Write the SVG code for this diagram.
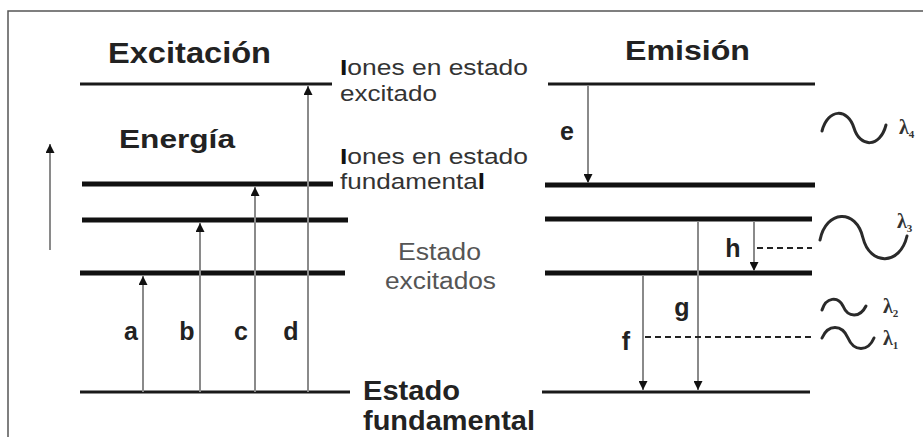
<svg xmlns="http://www.w3.org/2000/svg" width="923" height="437" viewBox="0 0 923 437">
<defs>
<marker id="ah" viewBox="0 0 10 10" refX="10" refY="5" markerWidth="9" markerHeight="9" markerUnits="userSpaceOnUse" orient="auto">
<path d="M0,0 L10,5 L0,10 z" fill="#111"/>
</marker>
<style>
.thin{stroke:#1a1a1a;stroke-width:3}
.thick{stroke:#111;stroke-width:5}
.arr{stroke:#8a8a8a;stroke-width:2;fill:none;marker-end:url(#ah)}
.dash{stroke:#222;stroke-width:2;stroke-dasharray:6 4}
.wave{stroke:#2a2a2a;stroke-width:3;fill:none;stroke-linecap:round}
.hd{font-family:"Liberation Sans",Arial,sans-serif;font-weight:bold;fill:#222}
.lb{font-family:"Liberation Sans",Arial,sans-serif;font-weight:bold;fill:#222;font-size:25px;text-anchor:middle}
.tx{font-family:"Liberation Sans",Arial,sans-serif;fill:#333;font-size:22px}
.gr{font-family:"Liberation Sans",Arial,sans-serif;fill:#555;font-size:23px}
.lam{font-family:"Liberation Serif","Times New Roman",serif;font-weight:bold;fill:#333;font-size:20px}
</style>
</defs>
<rect width="923" height="437" fill="#fff"/>
<path d="M8,437 V11 H923" fill="none" stroke="#555" stroke-width="1.5"/>

<g id="headings">
<text class="hd" x="108" y="63" font-size="29" textLength="163" lengthAdjust="spacingAndGlyphs">Excitación</text>
<text class="hd" x="119" y="148" font-size="25" textLength="116" lengthAdjust="spacingAndGlyphs">Energía</text>
<text class="hd" x="625" y="60" font-size="28" textLength="125" lengthAdjust="spacingAndGlyphs">Emisión</text>
</g>

<g id="level-ion-excited">
<line class="thin" x1="80" y1="84" x2="332" y2="84"/>
<line class="thin" x1="548" y1="84" x2="815" y2="84"/>
<text class="tx" x="340" y="75" textLength="188" lengthAdjust="spacingAndGlyphs"><tspan font-weight="bold" fill="#111">I</tspan>ones en estado</text>
<text class="tx" x="340" y="101" textLength="97" lengthAdjust="spacingAndGlyphs">excitado</text>
</g>

<g id="level-ion-ground">
<line class="thick" x1="82" y1="184" x2="333" y2="184"/>
<line class="thick" x1="545" y1="185" x2="815" y2="185"/>
<text class="tx" x="340" y="164" textLength="188" lengthAdjust="spacingAndGlyphs"><tspan font-weight="bold" fill="#111">I</tspan>ones en estado</text>
<text class="tx" x="340" y="189" textLength="145" lengthAdjust="spacingAndGlyphs">fundamenta<tspan font-weight="bold" fill="#111">l</tspan></text>
</g>

<g id="level-excited-2">
<line class="thick" x1="82" y1="220" x2="348" y2="220"/>
<line class="thick" x1="545" y1="219" x2="812" y2="219"/>
</g>

<g id="level-excited-1">
<line class="thick" x1="80" y1="273" x2="345" y2="273"/>
<line class="thick" x1="545" y1="273" x2="812" y2="273"/>
<text class="gr" x="398" y="260" textLength="83" lengthAdjust="spacingAndGlyphs">Estado</text>
<text class="gr" x="385" y="289" textLength="111" lengthAdjust="spacingAndGlyphs">excitados</text>
</g>

<g id="level-ground">
<line class="thin" x1="80" y1="392" x2="350" y2="392"/>
<line class="thin" x1="542" y1="392" x2="810" y2="392"/>
<text class="hd" x="363" y="400" font-size="27" textLength="97" lengthAdjust="spacingAndGlyphs">Estado</text>
<text class="hd" x="363" y="430" font-size="27" textLength="172" lengthAdjust="spacingAndGlyphs">fundamental</text>
</g>

<g id="connectors">
<line class="arr" x1="50" y1="250" x2="50" y2="144"/>
<line class="arr" x1="143" y1="392" x2="143" y2="276"/>
<line class="arr" x1="200" y1="392" x2="200" y2="223"/>
<line class="arr" x1="255" y1="392" x2="255" y2="187"/>
<line class="arr" x1="308" y1="392" x2="308" y2="86"/>
<line class="arr" x1="588" y1="85" x2="588" y2="183"/>
<line class="arr" x1="754" y1="221" x2="754" y2="271"/>
<line class="arr" x1="698" y1="221" x2="698" y2="390"/>
<line class="arr" x1="643" y1="275" x2="643" y2="390"/>
<line class="dash" x1="757" y1="248" x2="812" y2="248"/>
<line class="dash" x1="645" y1="337" x2="812" y2="337"/>
</g>

<g id="transition-labels">
<text class="lb" x="131" y="340">a</text>
<text class="lb" x="187" y="340">b</text>
<text class="lb" x="241" y="340">c</text>
<text class="lb" x="291" y="340">d</text>
<text class="lb" x="567" y="140">e</text>
<text class="lb" x="626" y="350">f</text>
<text class="lb" x="682" y="316">g</text>
<text class="lb" x="733" y="257">h</text>
</g>

<g id="photons">
<path class="wave" d="M822,131 C828,108 848,108 854,128 C860,148 880,148 886,125"/>
<text class="lam" x="899" y="134">λ<tspan font-size="11" dy="4">4</tspan></text>
<path class="wave" d="M820,240 C826,210 856,208 863,238 C870,266 900,266 907,236"/>
<text class="lam" x="897" y="228">λ<tspan font-size="11" dy="4">3</tspan></text>
<path class="wave" d="M822,310 C826,297 838,296 843,306 C848,318 860,318 866,306"/>
<text class="lam" x="883" y="313">λ<tspan font-size="11" dy="4">2</tspan></text>
<path class="wave" d="M822,338 C828,324 842,324 848,338 C854,352 868,352 874,338"/>
<text class="lam" x="883" y="345">λ<tspan font-size="11" dy="4">1</tspan></text>
</g>
</svg>
